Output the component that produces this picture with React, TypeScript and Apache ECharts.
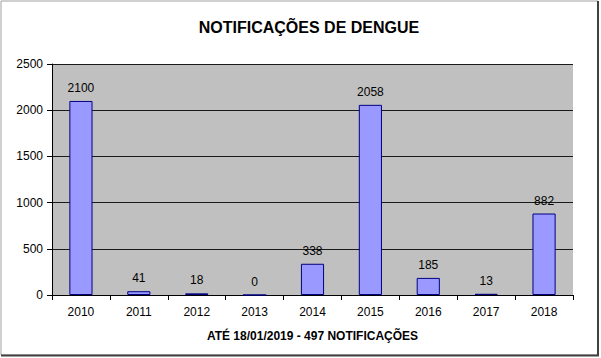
import React, { useEffect, useRef } from "react";
import * as echarts from "echarts";

const categories = ["2010", "2011", "2012", "2013", "2014", "2015", "2016", "2017", "2018"];
const notifications = [2100, 41, 18, 0, 338, 2058, 185, 13, 882];
const titleText = "NOTIFICAÇÕES DE DENGUE";
const subtitleText = "ATÉ 18/01/2019 - 497 NOTIFICAÇÕES";

export default function App() {
  const ref = useRef<HTMLDivElement>(null);
  useEffect(() => {
    if (!ref.current) return;
    const chart = echarts.init(ref.current, null, { renderer: "svg" });
    chart.setOption({
      animation: false,
      backgroundColor: "#ffffff",
      textStyle: { fontFamily: "Liberation Sans, Arial, sans-serif" },
      title: {
        text: titleText,
        left: 304,
        top: 14,
        textAlign: "center",
        textStyle: { fontSize: 16, fontWeight: "bold", color: "#000", fontFamily: "Liberation Sans, Arial, sans-serif" },
      },
      graphic: [
        { type: "rect", shape: { x: 1, y: 1, width: 597, height: 354 }, style: { fill: "none", stroke: "#a0a0a0", lineWidth: 1 }, silent: true },
        { type: "line", shape: { x1: 598, y1: 1, x2: 598, y2: 356 }, style: { stroke: "#404040", lineWidth: 2 }, silent: true },
        { type: "line", shape: { x1: 1, y1: 355.5, x2: 599, y2: 355.5 }, style: { stroke: "#404040", lineWidth: 2 }, silent: true },
      ],
      grid: { left: 52, right: 28, top: 64, bottom: 63, show: true, backgroundColor: "#c0c0c0", borderWidth: 0 },
      xAxis: {
        type: "category",
        data: categories,
        name: subtitleText,
        nameLocation: "middle",
        nameGap: 35,
        nameTextStyle: { fontSize: 12, fontWeight: "bold", color: "#000" },
        axisLine: { lineStyle: { color: "#000", width: 1 } },
        axisTick: { show: true, length: 5, lineStyle: { color: "#000" } },
        axisLabel: { fontSize: 12, color: "#000", margin: 11 },
      },
      yAxis: {
        type: "value",
        min: 0,
        max: 2500,
        interval: 500,
        axisLine: { show: true, lineStyle: { color: "#000", width: 1 } },
        axisTick: { show: true, length: 5, lineStyle: { color: "#000" } },
        axisLabel: { fontSize: 12, color: "#000", margin: 9, formatter: (v: number) => String(v) },
        splitLine: { lineStyle: { color: "#1a1a1a", width: 1 } },
      },
      series: [
        {
          type: "bar",
          data: notifications,
          barWidth: "40%",
          itemStyle: { color: "#9999ff", borderColor: "#000080", borderWidth: 1 },
          label: { show: true, position: "top", distance: 7, fontSize: 12, color: "#000" },
        },
      ],
    });
    return () => chart.dispose();
  }, []);
  return <div ref={ref} style={{ width: 601, height: 358, position: "absolute", left: 0, top: 0 }} />;
}
